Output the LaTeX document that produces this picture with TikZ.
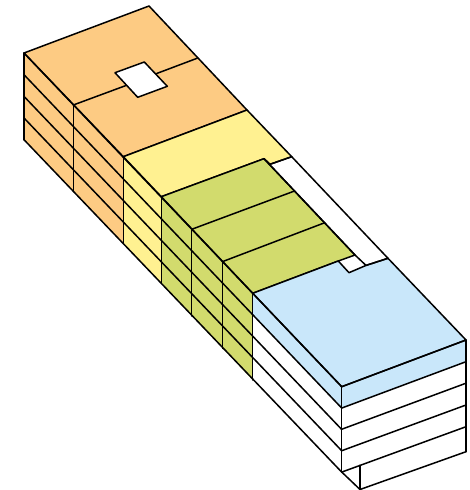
\documentclass[tikz,border=0pt]{standalone}
\definecolor{cOrange}{HTML}{FDCB83}
\definecolor{cYellow}{HTML}{FFF191}
\definecolor{cGreen}{HTML}{D2DB6D}
\definecolor{cBlue}{HTML}{C9E7FA}
\tikzset{
  face/.style={draw=black,line width=1.5pt,line join=round},
  edge/.style={draw=black,line width=1.5pt,line cap=round},
}
\begin{document}
\begin{tikzpicture}[x=1pt,y=-1pt]
\useasboundingbox (0,0) rectangle (470,490);
% top corners
\coordinate (A) at (24,53);
\coordinate (B) at (149,6);
\coordinate (C) at (247,110);
\coordinate (D) at (123.3,156.7);
\coordinate (E) at (291.7,156.7);
\coordinate (F) at (161.3,196.7);
\coordinate (G) at (264,158.7);
\coordinate (H) at (355,255);
\coordinate (I) at (252.7,293.3);
\coordinate (J) at (388,258.3);
\coordinate (K) at (466,340);
\coordinate (L) at (341.7,386.7);
% side fills
\fill[cOrange] (A) -- (D) -- (123.3,243.4) -- (24,139.7) -- cycle;
\fill[cYellow] (D) -- (F) -- (161.3,283.4) -- (123.3,243.4) -- cycle;
\fill[cGreen] (F) -- (I) -- (252.7,380) -- (161.3,283.4) -- cycle;
\fill[cBlue] (I) -- (L) -- (341.7,407.8) -- (252.7,314.8) -- cycle;
\fill[cBlue] (L) -- (K) -- (466,361.7) -- (341.7,407.8) -- cycle;
% top faces
\path[face,fill=cOrange] (A) -- (B) -- (C) -- (D) -- cycle;
\path[face,fill=cYellow] (D) -- (C) -- (E) -- (270,164.3) -- (G) -- (F) -- cycle;
\path[face,fill=cGreen] (F) -- (G) -- (H) -- (338.3,261) -- (I) -- cycle;
\path[face,fill=cBlue] (I) -- (338.3,261) -- (349,272.7) -- (366,265.4) -- (J) -- (K) -- (L) -- cycle;
\path[face] (270,164.3) -- (E) -- (J) -- (366,265.4) -- (H) -- (G) -- cycle;
% hole and ridge
\path[face,fill=white] (115,72.7) -- (144.3,62) -- (167.3,86.3) -- (137.7,97.3) -- cycle;
\coordinate (R1) at (73.3,105);
\coordinate (R2) at (126,85.5);
\coordinate (R3) at (156.7,73.5);
\coordinate (R4) at (197.3,58.2);
\draw[edge] (R1) -- (R2);
\draw[edge] (R3) -- (R4);
% green dividers
\coordinate (G1) at (191.7,229.3);
\coordinate (G2) at (294.5,191);
\coordinate (G3) at (222.3,261.7);
\coordinate (G4) at (324.5,222.8);
\draw[edge] (G1) -- (G2);
\draw[edge] (G3) -- (G4);
% long side lines
\foreach \d in {0,21.7,43.4,65,86.7}
  \draw[edge] (24,{53+\d}) -- (341.7,{386.7+\d*0.985});
% right face lines
\foreach \d in {0,21.7,43.2,65,86.7}
  \draw[edge] (466,{340+\d}) -- (341.7,{386.7+\d*0.985});
% verticals
\draw[edge] (24,53) -- (24,139.7);
\draw[edge] (73.3,105) -- (73.3,191.7);
\draw[edge] (123.3,156.7) -- (123.3,243.4);
\draw[edge] (161.3,196.7) -- (161.3,283.4);
\draw[edge] (191.7,229.3) -- (191.7,316);
\draw[edge] (222.3,261.7) -- (222.3,348.4);
\draw[edge] (252.7,293.3) -- (252.7,380);
\draw[edge] (341.7,386.7) -- (341.7,472);
\draw[edge] (466,340) -- (466,451.7);
% base
\coordinate (M) at (341.7,472);
\coordinate (N) at (360,489.5);
\draw[edge] (M) -- (N) -- (466,451.7);
\draw[edge] (360,465.3) -- (N);
\end{tikzpicture}
\end{document}
